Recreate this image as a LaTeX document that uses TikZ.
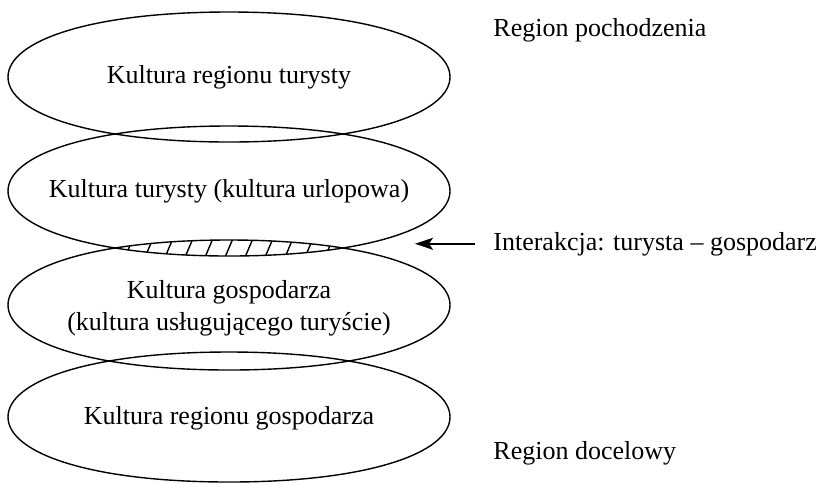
\documentclass[tikz,border=0pt]{standalone}
\usepackage{fontspec}
\setmainfont{Liberation Serif}
\usetikzlibrary{arrows.meta}
\tikzset{
  kultura/.style={font=\fontsize{13}{16}\selectfont, align=center, inner sep=0pt},
  opis/.style={font=\fontsize{13}{16}\selectfont, anchor=base west, inner sep=0pt},
  obrys/.style={line width=0.7pt},
}
% owal wokol srodka (229,#1), nieco splaszczony u gory
\newcommand{\owal}[1]{(8,#1) .. controls (8,#1-36) and (90,#1-65) .. (229,#1-65)
  .. controls (368,#1-65) and (450,#1-36) .. (450,#1)
  .. controls (450,#1+36) and (368,#1+65) .. (229,#1+65)
  .. controls (90,#1+65) and (8,#1+36) .. cycle}
\begin{document}
\begin{tikzpicture}[x=0.5pt,y=-0.5pt]
\useasboundingbox (0,0) rectangle (822,483);
% zakreskowana czesc wspolna
\begin{scope}
\clip \owal{191};
\clip \owal{305};
\foreach \x in {123,143,...,343} \draw[line width=0.7pt] (\x,262) -- ++(11,-26);
\end{scope}
\foreach \y in {77,191,305,417} \draw[obrys] \owal{\y};
% teksty w owalach
\node[kultura] (t1) at (229,77) {Kultura regionu turysty};
\node[kultura] (t2) at (229,191) {Kultura turysty (kultura urlopowa)};
\node[kultura] (t3) at (229,308) {Kultura gospodarza\\(kultura usługującego turyście)};
\node[kultura] (t4) at (229,418) {Kultura regionu gospodarza};
% opisy z prawej
\node[opis] (pochodzenie) at (493,36) {Region pochodzenia};
\node[opis] (inter) at (493,250) {Interakcja: turysta -- gospodarz};
\node[opis] (docelowy) at (493,459) {Region docelowy};
\coordinate (grot) at (415,243);
\draw[line width=0.8pt,-{Stealth[length=9pt,width=6pt,inset=2pt]}] ([xshift=-9pt]inter.west) -- (grot |- inter.west);
\end{tikzpicture}
\end{document}
